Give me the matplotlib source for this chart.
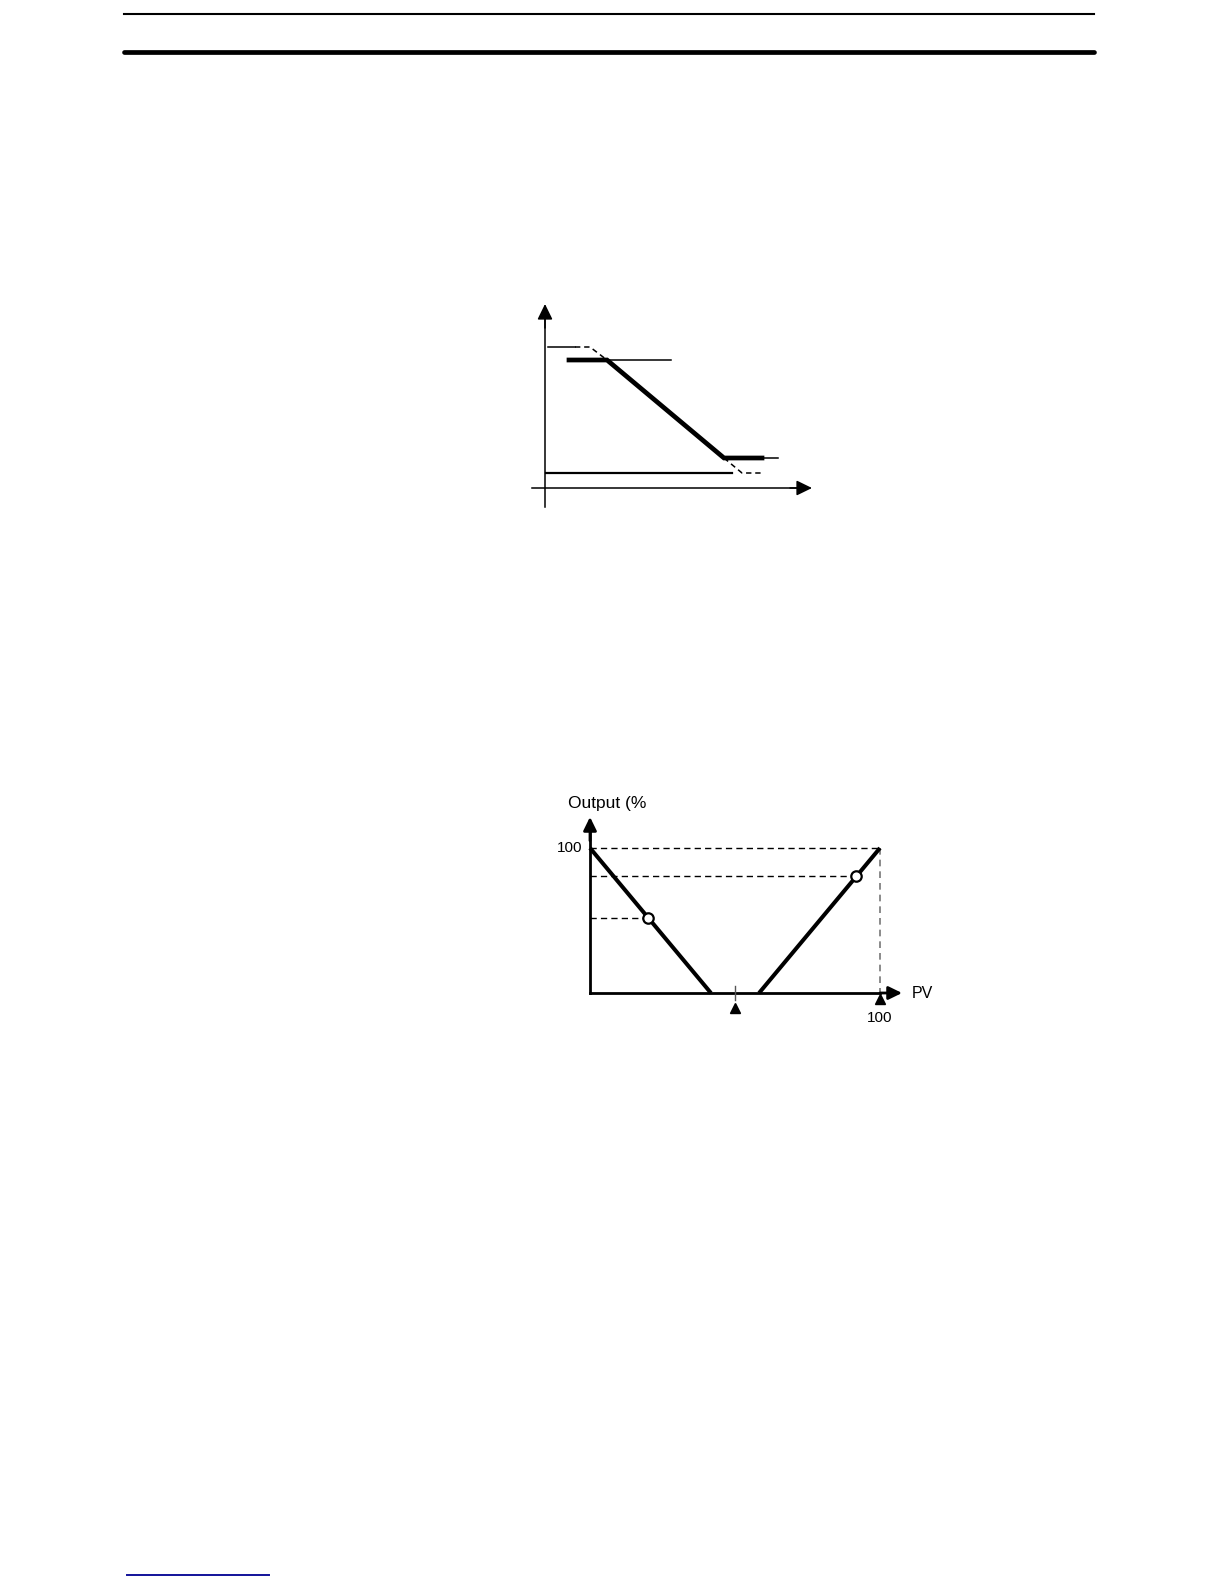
import matplotlib.pyplot as plt

plt.rcParams['font.family'] = ['Liberation Sans', 'DejaVu Sans']

# page size (px) at dpi 100
W, H = 1224, 1584

# ---- chart 1: output limit (units = px from axis origin) ----
mv_x = [24, 62, 179, 217]          # limited output (thick)
mv_y = [128, 128, 30, 30]
upper_solid_x = [3, 30]            # unlimited output, upper part
upper_solid_y = [141, 141]
upper_dash_x = [30, 45, 62]
upper_dash_y = [141, 141, 128]
high_limit_x = [62, 126]           # output upper limit
high_limit_y = [128, 128]
low_limit_x = [217, 233]           # output lower limit
low_limit_y = [30, 30]
lower_solid_x = [1, 187]
lower_solid_y = [15, 15]
lower_dash_x = [179, 197, 217]
lower_dash_y = [30, 15, 15]

# ---- chart 2: heating / cooling output vs PV ----
heat_x = [0, 41.7]
heat_y = [100, 0]
cool_x = [58.3, 100]
cool_y = [0, 100]
points_x = [20, 91.7]
points_y = [51.7, 80.7]
setpoint = 50
pv_max = 100
out_max = 100

fig = plt.figure(figsize=(W / 100, H / 100), dpi=100)

# page rules
page = fig.add_axes([0, 0, 1, 1])
page.set_xlim(0, W)
page.set_ylim(H, 0)
page.axis('off')
page.plot([124, 1094], [14, 14], color='black', lw=1.5)
page.plot([124, 1094], [52, 52], color='black', lw=3.4, solid_capstyle='round')
page.plot([127, 269], [1575, 1575], color='#12129a', lw=1.4)


def arrow(ax, start, tip, lw, ms):
    ax.annotate('', xy=tip, xytext=start,
                arrowprops=dict(arrowstyle='-|>,head_length=0.45,head_width=0.22',
                                mutation_scale=ms, lw=lw, color='black',
                                shrinkA=0, shrinkB=0))


# chart 1 axes: origin at px (545, 488)
x0, y0 = 545, 488
left, right, top, bottom = 500, 830, 290, 520
ax1 = fig.add_axes([left / W, 1 - bottom / H, (right - left) / W, (bottom - top) / H])
ax1.set_xlim(left - x0, right - x0)
ax1.set_ylim(y0 - bottom, y0 - top)
ax1.axis('off')

ax1.plot([0, 0], [-19, 170], color='black', lw=1.1)
arrow(ax1, (0, 160), (0, 184), 1.1, 21)
ax1.plot([-13, 255], [0, 0], color='black', lw=1.1)
arrow(ax1, (245, 0), (267, 0), 1.1, 21)

ax1.plot(upper_solid_x, upper_solid_y, color='black', lw=1.1)
ax1.plot(upper_dash_x, upper_dash_y, color='black', lw=1.1, dashes=(3.5, 2.5))
ax1.plot(high_limit_x, high_limit_y, color='black', lw=1.1)
ax1.plot(low_limit_x, low_limit_y, color='black', lw=1.1)
ax1.plot(lower_solid_x, lower_solid_y, color='black', lw=1.6)
ax1.plot(lower_dash_x, lower_dash_y, color='black', lw=1.1, dashes=(3.5, 2.5))
ax1.plot(mv_x, mv_y, color='black', lw=3.4, solid_joinstyle='miter')

# chart 2 axes: PV 0..100 -> px 590..880, output 0..100 -> px 993..848
ox, oy = 590, 993
sx, sy = 2.9, 1.45
left, right, top, bottom = 530, 960, 775, 1035
ax2 = fig.add_axes([left / W, 1 - bottom / H, (right - left) / W, (bottom - top) / H])
ax2.set_xlim((left - ox) / sx, (right - ox) / sx)
ax2.set_ylim((oy - bottom) / sy, (oy - top) / sy)
ax2.axis('off')

ax2.plot([0, 0], [0, 112], color='black', lw=2)
arrow(ax2, (0, 105), (0, 121.4), 2, 18)
ax2.plot([0, 100], [0, 0], color='black', lw=2)
arrow(ax2, (100, 0), (107.6, 0), 2, 18)

ax2.plot([0, pv_max], [out_max, out_max], color='black', lw=1.0, dashes=(4.5, 3))
ax2.plot([pv_max, pv_max], [out_max, 0], color='#777777', lw=1.2, dashes=(4, 3))
ax2.plot([0, points_x[1]], [points_y[1], points_y[1]], color='black', lw=1.0, dashes=(4.5, 3))
ax2.plot([0, points_x[0]], [points_y[0], points_y[0]], color='black', lw=1.0, dashes=(4.5, 3))

ax2.plot(heat_x, heat_y, color='black', lw=2.9, solid_capstyle='butt')
ax2.plot(cool_x, cool_y, color='black', lw=2.9, solid_capstyle='butt')
ax2.plot(points_x, points_y, 'o', ms=7.5, mfc='white', mec='black', mew=1.6)

ax2.plot([setpoint, setpoint], [5, -5], color='#555555', lw=1.0)
ax2.plot([setpoint], [-10.5], marker='^', ms=7, color='black', ls='none')
ax2.plot([pv_max], [-4.3], marker='^', ms=7, color='black', ls='none')

ax2.text(-7.6, 131, 'Output (%', fontsize=12.5, ha='left', va='center')
ax2.text(-2.5, out_max, '100', fontsize=11, ha='right', va='center')
ax2.text(pv_max, -17.5, '100', fontsize=11, ha='center', va='center')
ax2.text(111, 0, 'PV', fontsize=11.5, ha='left', va='center')

fig.savefig('out.png', dpi=100)
